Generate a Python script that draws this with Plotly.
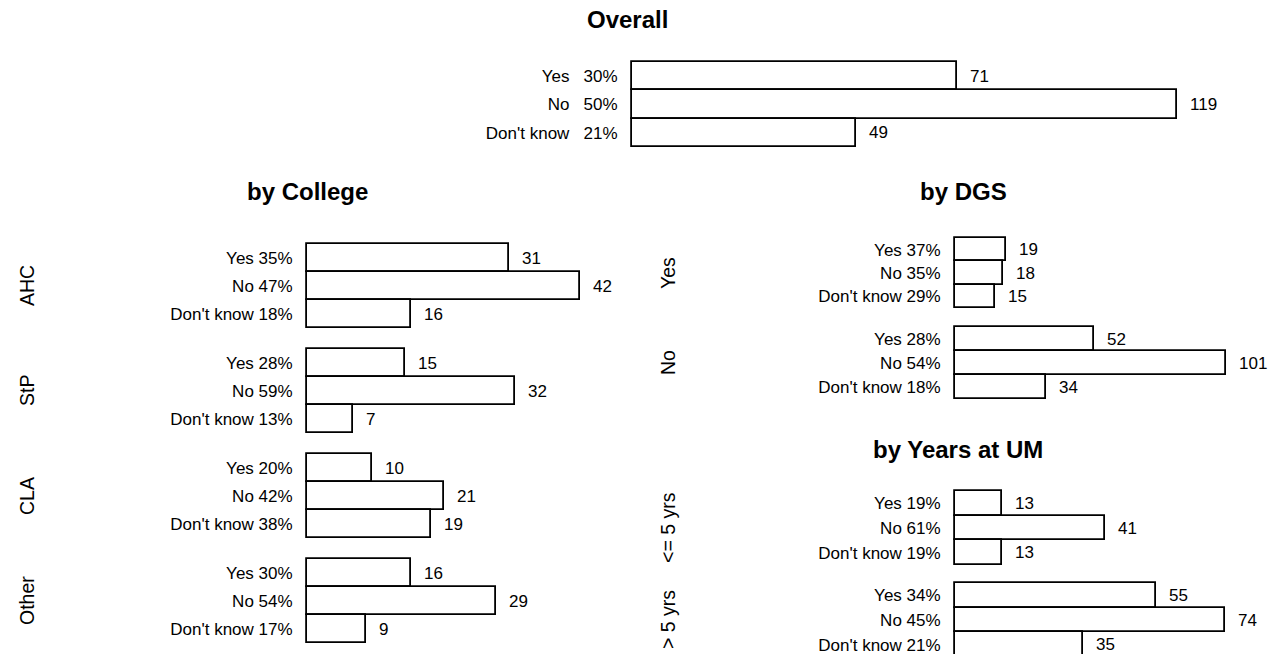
import plotly.graph_objects as go

# ── Data ────────────────────────────────────────────────────────────────────
ANSWERS = ["Yes", "No", "Don't know"]

overall_counts = [71, 119, 49]
overall_pct = [30, 50, 21]

college_groups = ["AHC", "StP", "CLA", "Other"]
ahc_counts, ahc_pct = [31, 42, 16], [35, 47, 18]
stp_counts, stp_pct = [15, 32, 7], [28, 59, 13]
cla_counts, cla_pct = [10, 21, 19], [20, 42, 38]
other_counts, other_pct = [16, 29, 9], [30, 54, 17]

dgs_groups = ["Yes", "No"]
dgs_yes_counts, dgs_yes_pct = [19, 18, 15], [37, 35, 29]
dgs_no_counts, dgs_no_pct = [52, 101, 34], [28, 54, 18]

years_groups = ["<= 5 yrs", "> 5 yrs"]
yrs_low_counts, yrs_low_pct = [13, 41, 13], [19, 61, 19]
yrs_high_counts, yrs_high_pct = [55, 74, 35], [34, 45, 21]

# ── Page geometry (pixels) ──────────────────────────────────────────────────
W, H = 1276, 654
FONT = "Liberation Sans, Arial, sans-serif"
LABEL_SIZE = 17
TITLE_SIZE = 24
SIDE_SIZE = 19.5
PAD = 3  # keeps the bar outlines inside the clip box


def px(p):
    return p / W


def py(p):
    return 1 - p / H


fig = go.Figure()
layout = {}
notes = []
n = [0]


def add_block(counts, pcts, x0, ppu, top, bottom, bar_h, sep=" ", x1=W):
    """One group of three bars on its own pair of axes."""
    n[0] += 1
    sfx = "" if n[0] == 1 else str(n[0])
    fig.add_trace(go.Bar(
        x=counts,
        y=ANSWERS,
        orientation="h",
        width=1.0,
        xaxis=f"x{sfx}",
        yaxis=f"y{sfx}",
        marker=dict(color="white", line=dict(color="black", width=1.8)),
        hoverinfo="skip",
        showlegend=False,
    ))
    layout[f"xaxis{sfx}"] = dict(
        domain=[px(x0 - PAD), px(x1)],
        range=[-PAD / ppu, (x1 - x0) / ppu],
        anchor=f"y{sfx}",
        visible=False,
        fixedrange=True,
    )
    pad_b = PAD if bottom + PAD <= H else H - bottom
    layout[f"yaxis{sfx}"] = dict(
        domain=[py(bottom + pad_b), py(top - PAD)],
        type="category",
        categoryarray=ANSWERS,
        range=[2.5 + pad_b / bar_h, -0.5 - PAD / bar_h],
        anchor=f"x{sfx}",
        tickvals=ANSWERS,
        ticktext=[f"{a}{sep}{p}%" for a, p in zip(ANSWERS, pcts)],
        ticks="outside",
        ticklen=7,
        tickcolor="rgba(0,0,0,0)",
        showline=False,
        showgrid=False,
        zeroline=False,
        tickfont=dict(size=LABEL_SIZE, color="black"),
        fixedrange=True,
    )
    for a, c in zip(ANSWERS, counts):
        notes.append(dict(
            x=c, y=a, xref=f"x{sfx}", yref=f"y{sfx}",
            text=str(c), showarrow=False,
            xanchor="left", xshift=11,
            font=dict(size=LABEL_SIZE, color="black"),
        ))


def title(text, x, y):
    notes.append(dict(
        x=px(x), y=py(y), xref="paper", yref="paper",
        text=f"<b>{text}</b>", showarrow=False,
        xanchor="center", yanchor="middle",
        font=dict(size=TITLE_SIZE, color="black"),
    ))


def side_label(text, x, y):
    notes.append(dict(
        x=px(x), y=py(y), xref="paper", yref="paper",
        text=text, showarrow=False, textangle=-90,
        xanchor="center", yanchor="middle",
        font=dict(size=SIDE_SIZE, color="black"),
    ))


# Overall
title("Overall", 627, 20)
add_block(overall_counts, overall_pct, 632, 4.58, 62, 147, 85 / 3,
          sep="\u00a0\u00a0\u00a0")

# by College
title("by College", 307, 191)
college = [(ahc_counts, ahc_pct), (stp_counts, stp_pct),
           (cla_counts, cla_pct), (other_counts, other_pct)]
for g, (c, p), top in zip(college_groups, college, [244, 349, 454, 559]):
    add_block(c, p, 307, 6.5, top, top + 84, 28, x1=625)
    side_label(g, 27, top + 42)

# by DGS
title("by DGS", 963, 191)
dgs = [(dgs_yes_counts, dgs_yes_pct), (dgs_no_counts, dgs_no_pct)]
for g, (c, p), (top, bot) in zip(dgs_groups, dgs, [(238, 308), (327, 399)]):
    add_block(c, p, 955, 2.68, top, bot, (bot - top) / 3)
    side_label(g, 668, (top + bot) / 2)

# by Years at UM
title("by Years at UM", 958, 449)
years = [(yrs_low_counts, yrs_low_pct), (yrs_high_counts, yrs_high_pct)]
for g, (c, p), (top, bot), mid in zip(years_groups, years,
                                      [(491, 565), (583, 657)], [528, 620]):
    add_block(c, p, 955, 3.65, top, bot, (bot - top) / 3)
    side_label(g, 668, mid)

fig.update_layout(
    width=W,
    height=H,
    margin=dict(l=0, r=0, t=0, b=0),
    paper_bgcolor="white",
    plot_bgcolor="white",
    font=dict(family=FONT, color="black", size=LABEL_SIZE),
    bargap=0,
    showlegend=False,
    annotations=notes,
    **layout,
)

fig.write_html(
    "out.html",
    config=dict(displayModeBar=False),
    post_script="document.body.style.margin='0px';",
)
